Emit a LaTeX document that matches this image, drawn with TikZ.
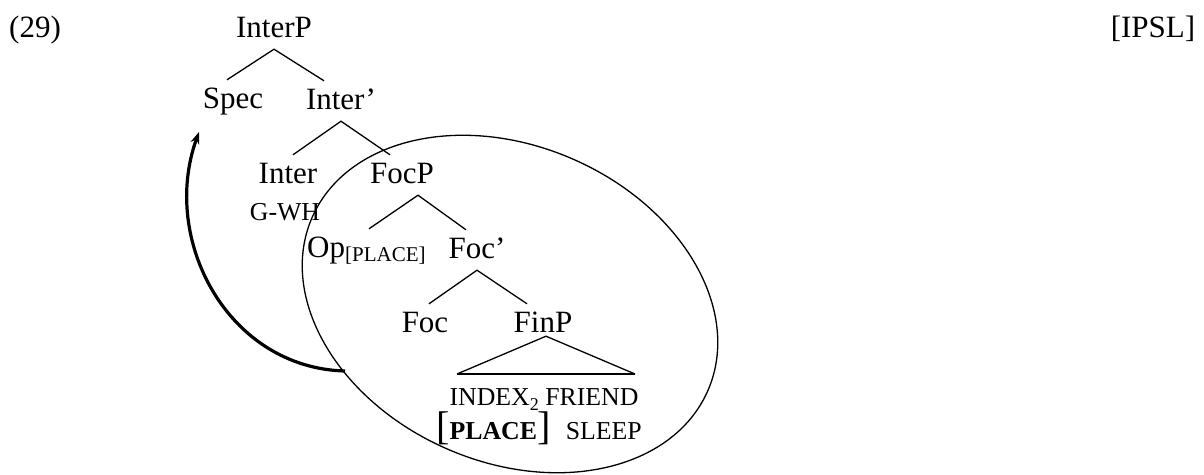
\documentclass[tikz,border=0pt]{standalone}
\usepackage{fontspec}
\setmainfont{Liberation Serif}
\usetikzlibrary{arrows.meta,shapes.geometric}
\begin{document}
\begin{tikzpicture}[x=1pt,y=-1pt,
  lab/.style={font=\fontsize{31}{31}\selectfont, anchor=base, inner sep=0pt, text height=28pt, text depth=12pt},
  small/.style={font=\fontsize{25.8}{26}\selectfont, anchor=base, inner sep=0pt},
  branch/.style={line width=1.3pt},
  movearrow/.style={line width=3.2pt, -{Stealth[length=12pt,width=9pt]}},
]
\useasboundingbox (0,0) rectangle (1204,474);
% labels
\node[lab] (ex) at (35,37) {(29)};
\node[lab] (lang) at (1153,37) {[IPSL]};
\node[lab] (interp) at (274,37) {InterP};
\node[lab] (spec) at (233,108) {Spec};
\node[lab] (interbar) at (341,109) {Inter’};
\node[lab] (inter) at (288,183) {Inter};
\node[lab] (focp) at (402,183) {FocP};
\node[small] (gwh) at (285,220) {G-WH};
\node[lab, anchor=base west] (op) at (307,257) {Op\raisebox{-4pt}{\fontsize{21}{21}\selectfont[PLACE]}};
\node[lab] (focbar) at (477,258) {Foc’};
\node[lab] (foc) at (425,332) {Foc};
\node[lab] (finp) at (543,332) {FinP};
\node[small] (idx) at (544,405) {INDEX\raisebox{-5pt}{\fontsize{18}{18}\selectfont 2} FRIEND};
\node[small] (place) at (539,439) {{\fontsize{40}{40}\selectfont[}\textbf{PLACE}{\fontsize{40}{40}\selectfont]}\hspace{9pt} SLEEP};
% branches
\draw[branch] ([xshift=-6pt]spec.north) -- (interp.south) -- ([xshift=-17pt]interbar.north);
\draw[branch] ([xshift=5pt]inter.north) -- (interbar.south) -- ([xshift=-12pt]focp.north);
\draw[branch] ([xshift=62pt]op.north west) -- ([xshift=16pt]focp.south) -- ([xshift=-11pt]focbar.north);
\draw[branch] ([xshift=4pt]foc.north) -- (focbar.south) -- ([xshift=-16pt]finp.north);
% triangle
\coordinate (triL) at (457,374);
\coordinate (triR) at (635,374);
\draw[branch] (triL) -- ([xshift=3pt,yshift=8pt]finp.south) -- (triR);
\draw[line width=2pt] (triL) -- (triR);
% ellipse
\node[draw, ellipse, line width=1.3pt, minimum width=432pt, minimum height=316pt, inner sep=0pt, rotate=-23.7] (oval) at (510,304) {};
% movement arrow
\coordinate (from) at (345,371);
\coordinate (to) at (199,132);
\draw[movearrow] (from) .. controls (228,368) and (160,240) .. (to);
\end{tikzpicture}
\end{document}
